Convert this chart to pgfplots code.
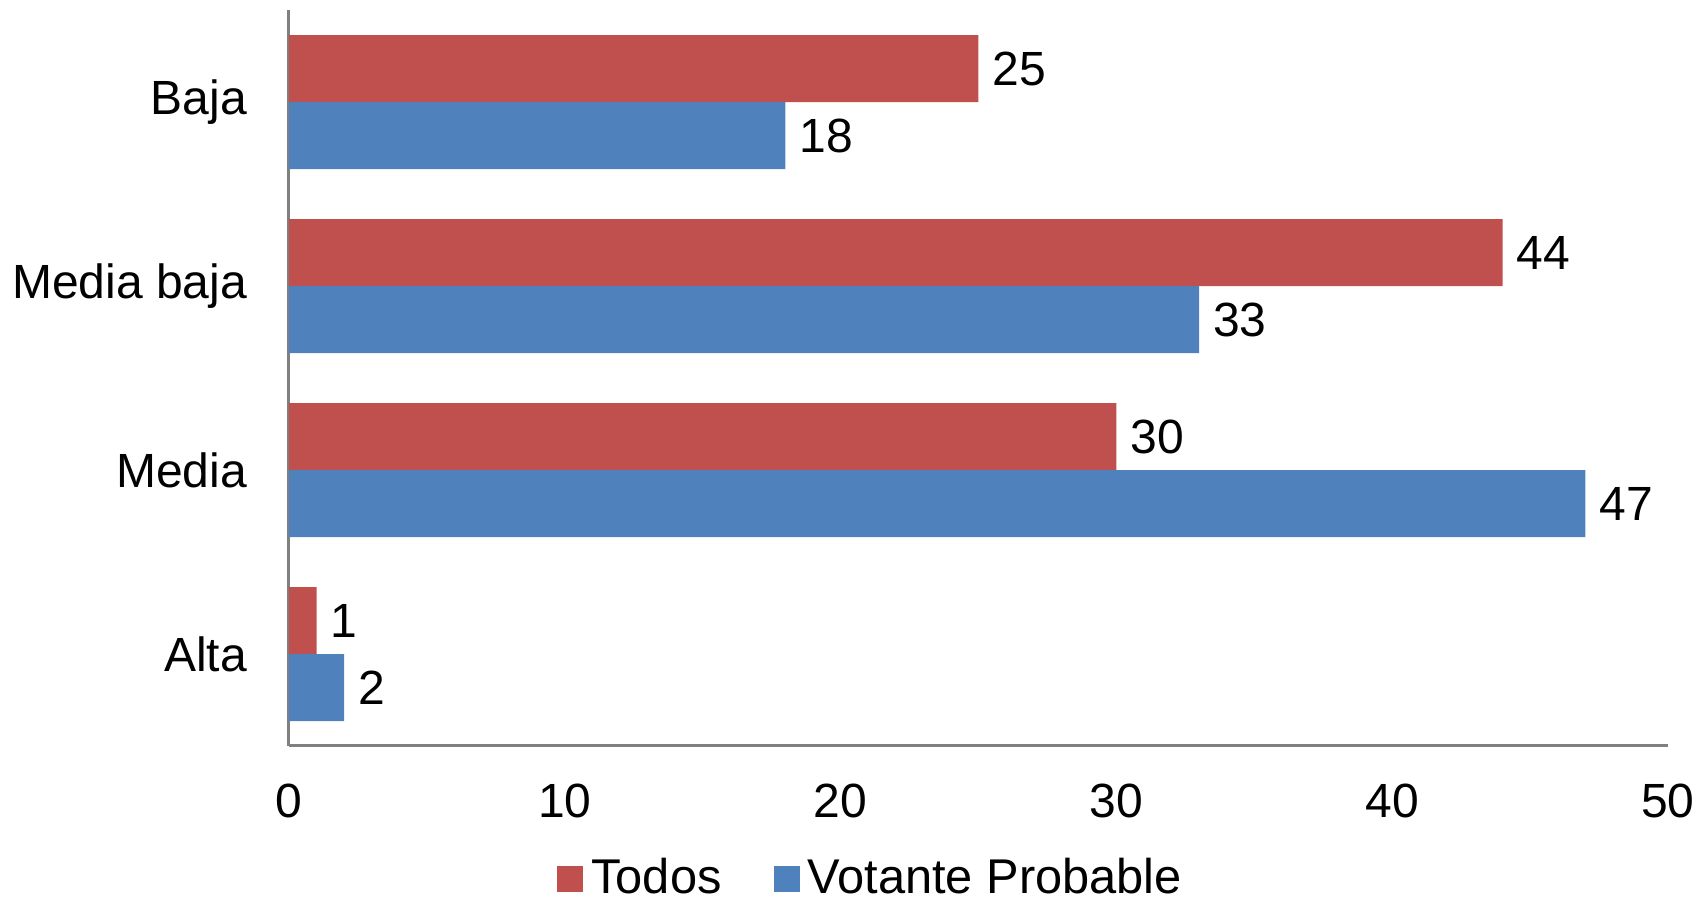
\documentclass[border=0pt]{standalone}
\usepackage{fontspec}
\setmainfont{Liberation Sans}
\usepackage{pgfplots}
\pgfplotsset{compat=1.18}
\definecolor{cred}{HTML}{C0504D}
\definecolor{cblue}{HTML}{4F81BD}
\begin{document}
\begin{tikzpicture}
\useasboundingbox (-72.25pt,-38.5pt) rectangle (354.5pt,186.5pt);
\begin{axis}[
  at={(0,0)}, anchor=south west,
  scale only axis, width=344.75pt, height=184pt,
  xbar, bar width=16.75pt,
  xmin=0, xmax=50, ymin=-0.5, ymax=3.5,
  xtick={0,10,20,30,40,50},
  ytick={0,1,2,3},
  yticklabels={Alta,Media,Media baja,Baja},
  axis x line*=bottom, axis y line*=left,
  axis line style={draw=gray!100, line width=0.75pt, -},
  major tick length=0pt,
  font=\fontsize{12}{14}\selectfont,
  /pgf/number format/assume math mode=true,
  xticklabel style={yshift=-6pt},
  yticklabel style={xshift=-7pt},
  nodes near coords,
  nodes near coords style={black, font=\fontsize{12}{14}\selectfont},
  legend columns=2,
  legend style={draw=none, fill=none, at={([yshift=-33.25pt]axis description cs:0.424,0)}, anchor=center,
    font=\fontsize{12.2}{14}\selectfont, /tikz/every even column/.append style={column sep=11pt},
    /tikz/every odd column/.append style={inner xsep=2pt}},
  legend image code/.code={\fill[#1] (0pt,-3.25pt) rectangle (6.5pt,3.25pt);},
]
\addplot[fill=cred, draw=none, bar shift=8.375pt] coordinates {(1,0) (30,1) (44,2) (25,3)};
\addplot[fill=cblue, draw=none, bar shift=-8.375pt] coordinates {(2,0) (47,1) (33,2) (18,3)};
\legend{Todos, Votante Probable}
\end{axis}
\end{tikzpicture}
\end{document}
